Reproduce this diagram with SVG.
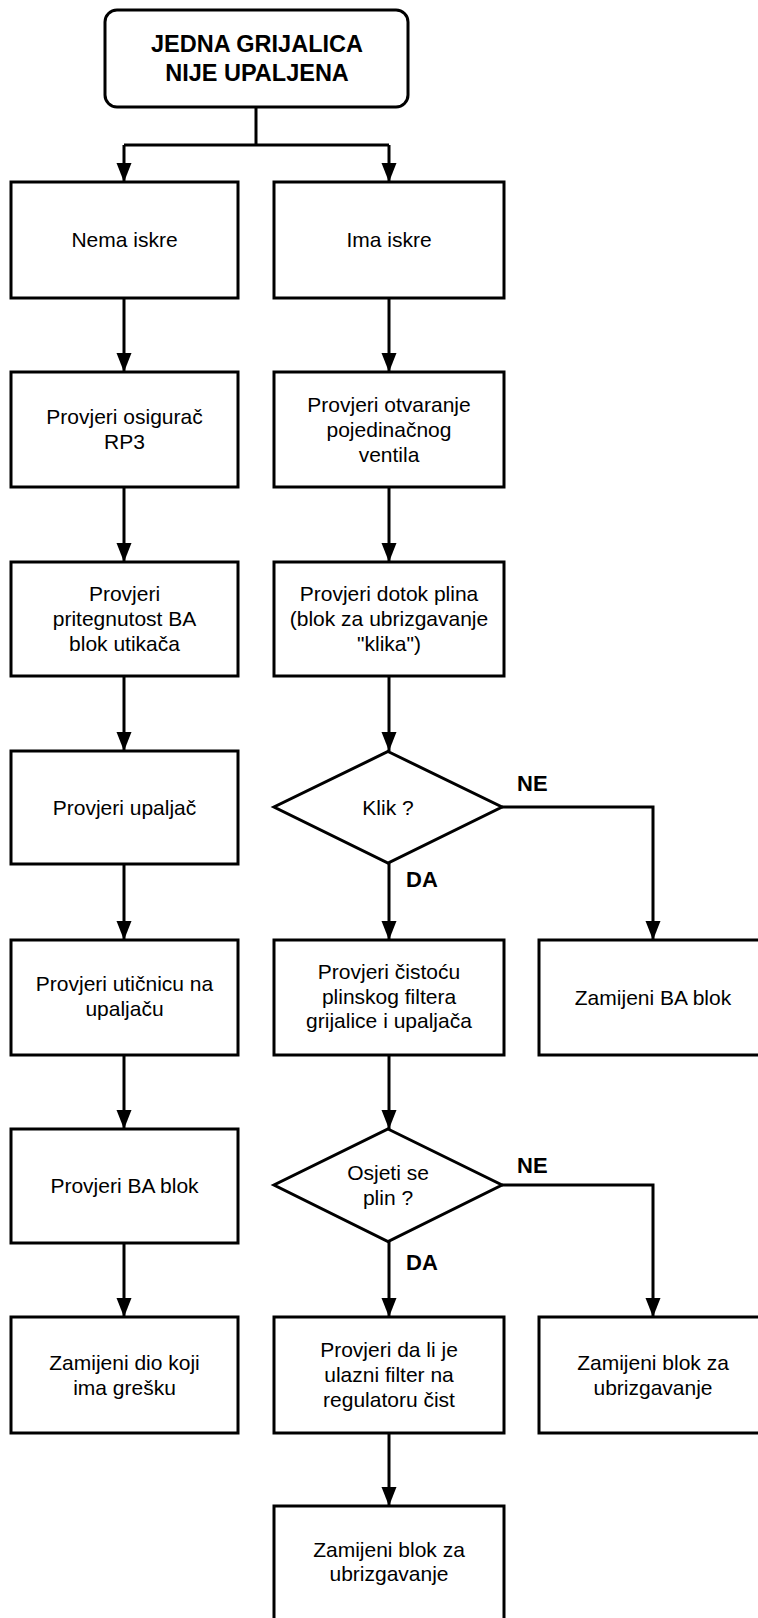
<svg xmlns="http://www.w3.org/2000/svg" width="758" height="1618" viewBox="0 0 758 1618">
<style>
.box{fill:#fff;stroke:#000;stroke-width:3}
.t{font-family:"Liberation Sans",Arial,sans-serif;font-size:21px;fill:#000;text-anchor:middle}
.b{font-family:"Liberation Sans",Arial,sans-serif;font-weight:bold;fill:#000}
.c{fill:none;stroke:#000;stroke-width:3}
</style>
<defs>
<marker id="ah" markerUnits="userSpaceOnUse" markerWidth="20" markerHeight="16" refX="19" refY="7.5" orient="auto">
<path d="M0,0 L19,7.5 L0,15 z" fill="#000"/>
</marker>
</defs>
<rect width="758" height="1618" fill="#fff"/>
<g id="connectors">
<path class="c" d="M256,107 V145"/>
<path class="c" d="M124,145 H389"/>
<path class="c" d="M124,145 V182" marker-end="url(#ah)"/>
<path class="c" d="M389,145 V182" marker-end="url(#ah)"/>
<path class="c" d="M124,298 V372" marker-end="url(#ah)"/>
<path class="c" d="M124,487 V562" marker-end="url(#ah)"/>
<path class="c" d="M124,676 V751" marker-end="url(#ah)"/>
<path class="c" d="M124,864 V940" marker-end="url(#ah)"/>
<path class="c" d="M124,1055 V1129" marker-end="url(#ah)"/>
<path class="c" d="M124,1243 V1317" marker-end="url(#ah)"/>
<path class="c" d="M389,298 V372" marker-end="url(#ah)"/>
<path class="c" d="M389,487 V562" marker-end="url(#ah)"/>
<path class="c" d="M389,676 V751" marker-end="url(#ah)"/>
<path class="c" d="M389,863 V940" marker-end="url(#ah)"/>
<path class="c" d="M389,1055 V1129" marker-end="url(#ah)"/>
<path class="c" d="M389,1241 V1317" marker-end="url(#ah)"/>
<path class="c" d="M389,1433 V1506" marker-end="url(#ah)"/>
<path class="c" d="M502,807 H653 V940" marker-end="url(#ah)"/>
<path class="c" d="M502,1185 H653 V1317" marker-end="url(#ah)"/>
<text class="b" x="517" y="791" font-size="22">NE</text>
<text class="b" x="406" y="887" font-size="22">DA</text>
<text class="b" x="517" y="1173" font-size="22">NE</text>
<text class="b" x="406" y="1270" font-size="22">DA</text>
</g>
<g id="start">
<rect class="box" x="105" y="10" width="303" height="97" rx="12"/>
<text class="b" x="257" y="52" font-size="23.5" text-anchor="middle">JEDNA GRIJALICA</text>
<text class="b" x="257" y="81" font-size="23.5" text-anchor="middle">NIJE UPALJENA</text>
</g>
<g id="nema-iskre">
<rect class="box" x="11" y="182" width="227" height="116"/>
<text class="t" x="124.5" y="247">Nema iskre</text>
</g>
<g id="ima-iskre">
<rect class="box" x="274" y="182" width="230" height="116"/>
<text class="t" x="389" y="247">Ima iskre</text>
</g>
<g id="osigurac">
<rect class="box" x="11" y="372" width="227" height="115"/>
<text class="t" x="124.5" y="424">Provjeri osigurač</text>
<text class="t" x="124.5" y="449">RP3</text>
</g>
<g id="otvaranje">
<rect class="box" x="274" y="372" width="230" height="115"/>
<text class="t" x="389" y="411.5">Provjeri otvaranje</text>
<text class="t" x="389" y="436.5">pojedinačnog</text>
<text class="t" x="389" y="461.5">ventila</text>
</g>
<g id="pritegnutost">
<rect class="box" x="11" y="562" width="227" height="114"/>
<text class="t" x="124.5" y="601">Provjeri</text>
<text class="t" x="124.5" y="626">pritegnutost BA</text>
<text class="t" x="124.5" y="651">blok utikača</text>
</g>
<g id="dotok">
<rect class="box" x="274" y="562" width="230" height="114"/>
<text class="t" x="389" y="601">Provjeri dotok plina</text>
<text class="t" x="389" y="626">(blok za ubrizgavanje</text>
<text class="t" x="389" y="651">"klika")</text>
</g>
<g id="upaljac">
<rect class="box" x="11" y="751" width="227" height="113"/>
<text class="t" x="124.5" y="815">Provjeri upaljač</text>
</g>
<g id="klik">
<polygon class="box" points="388,751.5 502,807 388,863 274,807"/>
<text class="t" x="388" y="814.5">Klik ?</text>
</g>
<g id="uticnica">
<rect class="box" x="11" y="940" width="227" height="115"/>
<text class="t" x="124.5" y="991">Provjeri utičnicu na</text>
<text class="t" x="124.5" y="1016">upaljaču</text>
</g>
<g id="cistoca">
<rect class="box" x="274" y="940" width="230" height="115"/>
<text class="t" x="389" y="979">Provjeri čistoću</text>
<text class="t" x="389" y="1003.5">plinskog filtera</text>
<text class="t" x="389" y="1028">grijalice i upaljača</text>
</g>
<g id="zamijeni-ba">
<rect class="box" x="539" y="940" width="228" height="115"/>
<text class="t" x="653" y="1005">Zamijeni BA blok</text>
</g>
<g id="ba-blok">
<rect class="box" x="11" y="1129" width="227" height="114"/>
<text class="t" x="124.5" y="1193">Provjeri BA blok</text>
</g>
<g id="osjeti">
<polygon class="box" points="388,1129 502,1185 388,1241.5 274,1185"/>
<text class="t" x="388" y="1180">Osjeti se</text>
<text class="t" x="388" y="1205">plin ?</text>
</g>
<g id="zamijeni-dio">
<rect class="box" x="11" y="1317" width="227" height="116"/>
<text class="t" x="124.5" y="1369.5">Zamijeni dio koji</text>
<text class="t" x="124.5" y="1394.5">ima grešku</text>
</g>
<g id="ulazni-filter">
<rect class="box" x="274" y="1317" width="230" height="116"/>
<text class="t" x="389" y="1357">Provjeri da li je</text>
<text class="t" x="389" y="1382">ulazni filter na</text>
<text class="t" x="389" y="1407">regulatoru čist</text>
</g>
<g id="zamijeni-blok-1">
<rect class="box" x="539" y="1317" width="228" height="116"/>
<text class="t" x="653" y="1369.5">Zamijeni blok za</text>
<text class="t" x="653" y="1394.5">ubrizgavanje</text>
</g>
<g id="zamijeni-blok-2">
<rect class="box" x="274" y="1506" width="230" height="115"/>
<text class="t" x="389" y="1557">Zamijeni blok za</text>
<text class="t" x="389" y="1581">ubrizgavanje</text>
</g>
</svg>
